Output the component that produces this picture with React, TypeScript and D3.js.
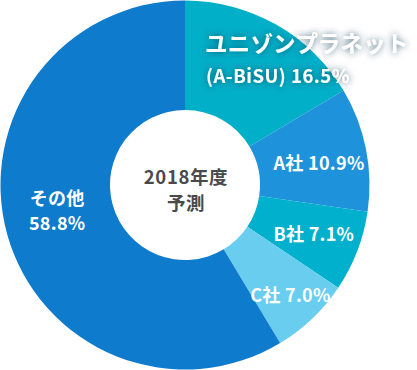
import React from "react";
import * as d3 from "d3";

const categories = ["ユニゾンプラネット", "A社", "B社", "C社", "その他"];
const shares = [16.5, 10.9, 7.1, 7.0, 58.8];
const colors = ["#02afc8", "#1e93dc", "#01b0cc", "#68cdee", "#0f7bcd"];
const centerLines = ["2018年度", "予測"];

const W = 417;
const H = 370;
const CX = 185;
const CY = 185;
const R_OUT = 184.5;
const R_IN = 75;

const FONT = "'Noto Sans CJK JP', 'Noto Sans', sans-serif";

export default function App() {
  const pie = d3
    .pie<number>()
    .sort(null)
    .value((d) => d);
  const arcs = pie(shares);
  const arc = d3.arc<d3.PieArcDatum<number>>().innerRadius(R_IN).outerRadius(R_OUT);

  const pos = (a: d3.PieArcDatum<number>, r: number, dx = 0, dy = 0) => {
    const m = (a.startAngle + a.endAngle) / 2;
    return [CX + r * Math.sin(m) + dx, CY - r * Math.cos(m) + dy];
  };

  const [ax, ay] = pos(arcs[1], 129.5, 7, 2);
  const [bx, by] = pos(arcs[2], 129.5, 8, 1);
  const [cx, cy] = pos(arcs[3], 150, 2, 0);
  const [ox, oy] = pos(arcs[4], 129.5, -3, -23);

  const lbl = {
    fill: "#fff",
    fontFamily: FONT,
    fontWeight: 700,
    fontSize: 18,
    letterSpacing: 0.3,
  } as React.CSSProperties;

  return (
    <svg
      width={W}
      height={H}
      style={{ position: "absolute", left: 0, top: 0, display: "block" }}
    >
      <defs>
        <filter id="glow" x="-20%" y="-40%" width="140%" height="180%">
          <feDropShadow dx="0" dy="0" stdDeviation="3.5" floodColor="#0b3550" floodOpacity="0.75" />
        </filter>
      </defs>
      <rect width={W} height={H} fill="#fff" />
      <g transform={`translate(${CX},${CY})`}>
        {arcs.map((a, i) => (
          <path key={categories[i]} d={arc(a) || ""} fill={colors[i]} />
        ))}
      </g>
      <g filter="url(#glow)">
        <text x={205} y={42} dominantBaseline="central" style={{ ...lbl, fontSize: 22.5, letterSpacing: 0.2 }}>
          {categories[0]}
        </text>
        <text x={206} y={75} dominantBaseline="central" style={{ ...lbl, fontSize: 18.5, letterSpacing: 0.5 }}>
          {`(A-BiSU) ${shares[0].toFixed(1)}%`}
        </text>
      </g>
      <text x={ax} y={ay} textAnchor="middle" dominantBaseline="central" style={lbl}>
        {`${categories[1]} ${shares[1].toFixed(1)}%`}
      </text>
      <text x={bx} y={by} textAnchor="middle" dominantBaseline="central" style={lbl}>
        {`${categories[2]} ${shares[2].toFixed(1)}%`}
      </text>
      <text x={cx} y={cy} textAnchor="middle" dominantBaseline="central" style={lbl}>
        {`${categories[3]} ${shares[3].toFixed(1)}%`}
      </text>
      <text x={ox} y={oy} textAnchor="middle" dominantBaseline="central" style={lbl}>
        {categories[4]}
      </text>
      <text x={ox} y={oy + 25} textAnchor="middle" dominantBaseline="central" style={lbl}>
        {`${shares[4].toFixed(1)}%`}
      </text>
      {centerLines.map((t, i) => (
        <text
          key={t}
          x={CX + 1}
          y={176 + i * 26}
          textAnchor="middle"
          dominantBaseline="central"
          style={{ fill: "#4a4a4a", fontFamily: FONT, fontWeight: 700, fontSize: 18.5, letterSpacing: 0.6 }}
        >
          {t}
        </text>
      ))}
    </svg>
  );
}
